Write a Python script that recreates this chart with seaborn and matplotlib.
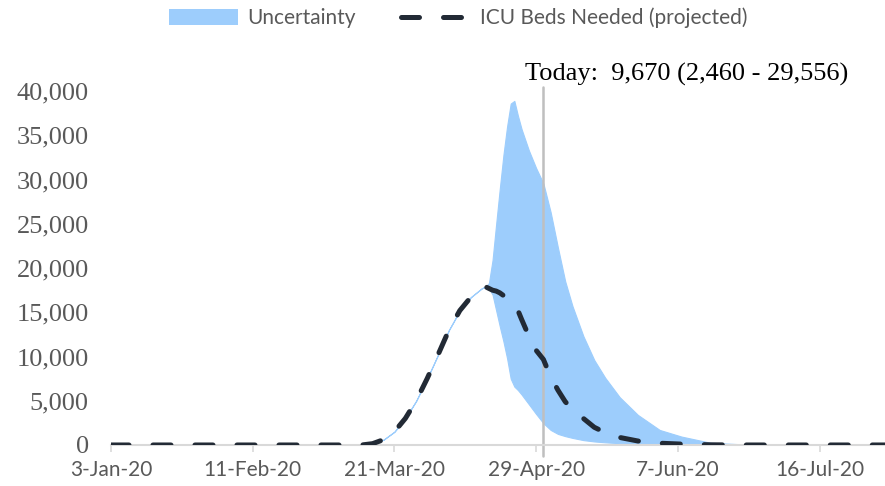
import pandas as pd
import numpy as np
import seaborn as sns
import matplotlib.pyplot as plt
import matplotlib.dates as mdates
from matplotlib.patches import Patch
from matplotlib.lines import Line2D

# ICU beds needed (projected) with uncertainty band
dates = ["2020-01-03", "2020-03-12", "2020-03-15", "2020-03-18", "2020-03-21", "2020-03-24",
         "2020-03-27", "2020-03-30", "2020-04-02", "2020-04-05", "2020-04-08", "2020-04-11",
         "2020-04-14", "2020-04-15", "2020-04-16", "2020-04-17", "2020-04-18", "2020-04-19",
         "2020-04-20", "2020-04-21", "2020-04-22", "2020-04-23", "2020-04-24", "2020-04-25",
         "2020-04-27", "2020-04-29", "2020-05-01", "2020-05-03", "2020-05-05", "2020-05-07",
         "2020-05-09", "2020-05-12", "2020-05-15", "2020-05-18", "2020-05-22", "2020-05-27",
         "2020-06-02", "2020-06-08", "2020-06-16", "2020-06-26", "2020-08-03"]
beds = [0, 0, 150, 600, 1500, 3000,
        5000, 7500, 10200, 13000, 15200, 16700,
        17700, 17900, 17700, 17500, 17400, 17200,
        16900, 16500, 16000, 15600, 15200, 14200,
        12300, 10700, 9670, 7700, 6200, 4900,
        4000, 3000, 2000, 1400, 850, 450,
        200, 100, 20, 0, 0]
lower = [0, 0, 150, 600, 1500, 3000,
         5000, 7500, 10200, 13000, 15200, 16700,
         17700, 17900, 17700, 17000, 15200, 13400,
         11700, 9800, 7500, 6600, 6200, 5700,
         4600, 3500, 2460, 1700, 1250, 1000,
         800, 550, 400, 300, 200, 120,
         60, 20, 0, 0, 0]
upper = [0, 0, 150, 600, 1500, 3000,
         5000, 7500, 10200, 13000, 15200, 16700,
         17700, 17900, 18300, 20900, 25000, 29000,
         32800, 36000, 38600, 38900, 37200, 35700,
         33300, 31300, 29556, 26300, 22300, 18500,
         15700, 12300, 9600, 7600, 5400, 3400,
         1700, 950, 250, 50, 0]
today = "2020-05-01"
today_label = "Today:  9,670 (2,460 - 29,556)"
xticks = ["2020-01-03", "2020-02-11", "2020-03-21", "2020-04-29", "2020-06-07", "2020-07-16"]
yticks = [0, 5000, 10000, 15000, 20000, 25000, 30000, 35000, 40000]

df = pd.DataFrame({"date": pd.to_datetime(dates), "beds": beds, "lower": lower, "upper": upper})

sns.set_style("white")
plt.rcParams['font.family'] = ['Lato', 'DejaVu Sans']

fig = plt.figure(figsize=(8.85, 4.86), dpi=100)
ax = fig.add_axes([0.1254, 0.0844, 0.8746, 0.728])

band_color = "#9dcdfc"
line_color = "#222a35"
text_gray = "#595959"

ax.fill_between(df["date"], df["lower"], df["upper"], color=band_color, lw=0.8, edgecolor=band_color, zorder=1)
sns.lineplot(data=df, x="date", y="beds", ax=ax, color=line_color, lw=3.6, zorder=3)
ln = ax.get_lines()[0]
ln.set_dashes((3.6, 4.8))
ln.set_dash_capstyle("round")

t = pd.Timestamp(today)
ax.plot([t, t], [-1200, 40500], color="#bfbfbf", lw=1.8, clip_on=False, zorder=2)
ax.annotate(today_label, xy=(t, 40000), xytext=(-13, 4), textcoords="offset points",
            ha="left", va="bottom", fontsize=19, family=["Liberation Serif"], color="black")

ax.set_xlim(pd.Timestamp("2020-01-03"), pd.Timestamp("2020-08-03"))
ax.set_ylim(0, 40000)
ax.set_xticks(pd.to_datetime(xticks))
ax.xaxis.set_major_formatter(mdates.DateFormatter("%-d-%b-%y"))
ax.set_yticks(yticks)
ax.set_yticklabels([f"{v:,}" for v in yticks], family=["Liberation Serif"], fontsize=19, color=text_gray)
for lab in ax.get_xticklabels():
    lab.set_fontsize(15)
    lab.set_color(text_gray)
ax.set_xlabel("")
ax.set_ylabel("")

for s in ["top", "right", "left"]:
    ax.spines[s].set_visible(False)
ax.spines["bottom"].set_color("#d9d9d9")
ax.spines["bottom"].set_linewidth(1.5)
ax.tick_params(axis="x", direction="out", length=5, width=1.2, color="#d9d9d9", pad=6, bottom=True)
ax.tick_params(axis="y", length=0, pad=16)
ax.grid(False)

handles = [Patch(facecolor=band_color, edgecolor="none", label="Uncertainty"),
           Line2D([0], [0], color=line_color, lw=3.6, dashes=(3.6, 4.8), dash_capstyle="round",
                  label="ICU Beds Needed (projected)")]
leg = fig.legend(handles=handles, loc="center", bbox_to_anchor=(458 / 885, 1 - 18 / 486), ncol=2,
                 frameon=False, fontsize=15, handlelength=3.3, handleheight=0.8,
                 columnspacing=2.2, handletextpad=0.45)
for txt in leg.get_texts():
    txt.set_color(text_gray)

fig.savefig("out.png", dpi=100)
